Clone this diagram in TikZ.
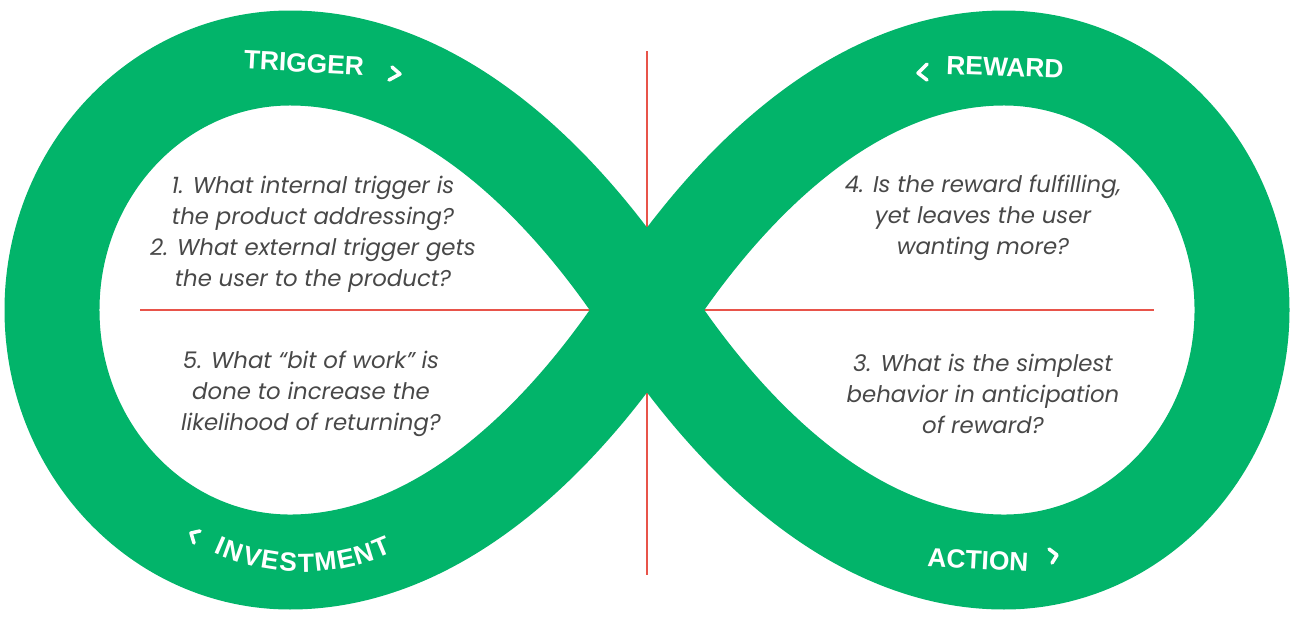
\documentclass[tikz,border=0pt]{standalone}
\usepackage{fontspec}
\usepackage{tikz}
\usetikzlibrary{decorations.text}
\newfontfamily\qfont{Poppins}
\newfontfamily\lfont{Liberation Sans}
\definecolor{loopgreen}{RGB}{2,180,106}
\definecolor{axisred}{RGB}{232,84,74}
\definecolor{qgray}{RGB}{72,72,72}
\tikzstyle{question}=[align=center, text=qgray, font=\qfont\itshape\fontsize{13}{17.6}\selectfont, inner sep=0pt]
\tikzstyle{stage}=[text=white, font=\lfont\bfseries\fontsize{15}{15}\selectfont, inner sep=0pt]
\tikzstyle{chevron}=[draw=white, line width=2pt, line cap=round, line join=round]
\newcommand{\question}{\node[question]}
\newcommand{\stage}{\node[stage]}
\newcommand{\lsp}{\kern0.9pt}

\begin{document}
\begin{tikzpicture}[x=0.02cm,y=-0.02cm]
	\useasboundingbox (0,0) rectangle (1294,619);
	\coordinate (mid) at (647,310);
	\coordinate (vtop) at (647,51);
	\coordinate (vbot) at (647,575);
	\coordinate (hleft) at (140,310);
	\coordinate (hright) at (1154,310);
	\draw[axisred, line width=1.3pt] (vtop) -- (vbot);
	\draw[axisred, line width=1.3pt] (hleft) -- (hright);

	% the loop
	\draw[loopgreen, line width=1.9cm, line join=round]
		(mid) .. controls (565,184) and (440,58) .. (290,58)
		.. controls (158.6,58) and (52,170.8) .. (52,310)
		.. controls (52,449.2) and (158.6,562) .. (290,562)
		.. controls (440,562) and (565,436) .. (mid)
		.. controls (729,184) and (854,58) .. (1004,58)
		.. controls (1135.4,58) and (1242,170.8) .. (1242,310)
		.. controls (1242,449.2) and (1135.4,562) .. (1004,562)
		.. controls (854,562) and (729,436) .. (mid) -- cycle;

	\stage (trigger) at (304,63) [rotate=-3] {TRIGGER};
	\stage (reward) at (1005,67) [rotate=-2] {REWARD};
	\stage (action) at (978,560) [rotate=-3] {ACTION};
	\path[decorate, decoration={text along path, text align=center, text color=white,
		text={|\lfont\bfseries\fontsize{15}{15}\selectfont|I{\lsp}N{\lsp}V{\lsp}E{\lsp}S{\lsp}T{\lsp}M{\lsp}E{\lsp}N{\lsp}T}}]
		(179.7,533.1) .. controls (253.7,585) and (352.3,585) .. (426.3,533.1);

	\draw[chevron] (392,67) -- (400,74) -- (389,80);
	\draw[chevron] (927,64) -- (918,73) -- (927,80);
	\draw[chevron] (200,531) -- (191,533) -- (194,543);
	\draw[chevron] (1049,549) -- (1057,555) -- (1052,563);

	\question (q1) at (313,234) {1. What internal trigger is\\the product addressing?\\2. What external trigger gets\\the user to the product?};
	\question (q5) at (311,394) {5. What “bit of work” is\\done to increase the\\likelihood of returning?};
	\question (q4) at (983,218) {4. Is the reward fulfilling,\\yet leaves the user\\wanting more?};
	\question (q3) at (983,394) {3. What is the simplest\\behavior in anticipation\\of reward?};
\end{tikzpicture}
\end{document}
